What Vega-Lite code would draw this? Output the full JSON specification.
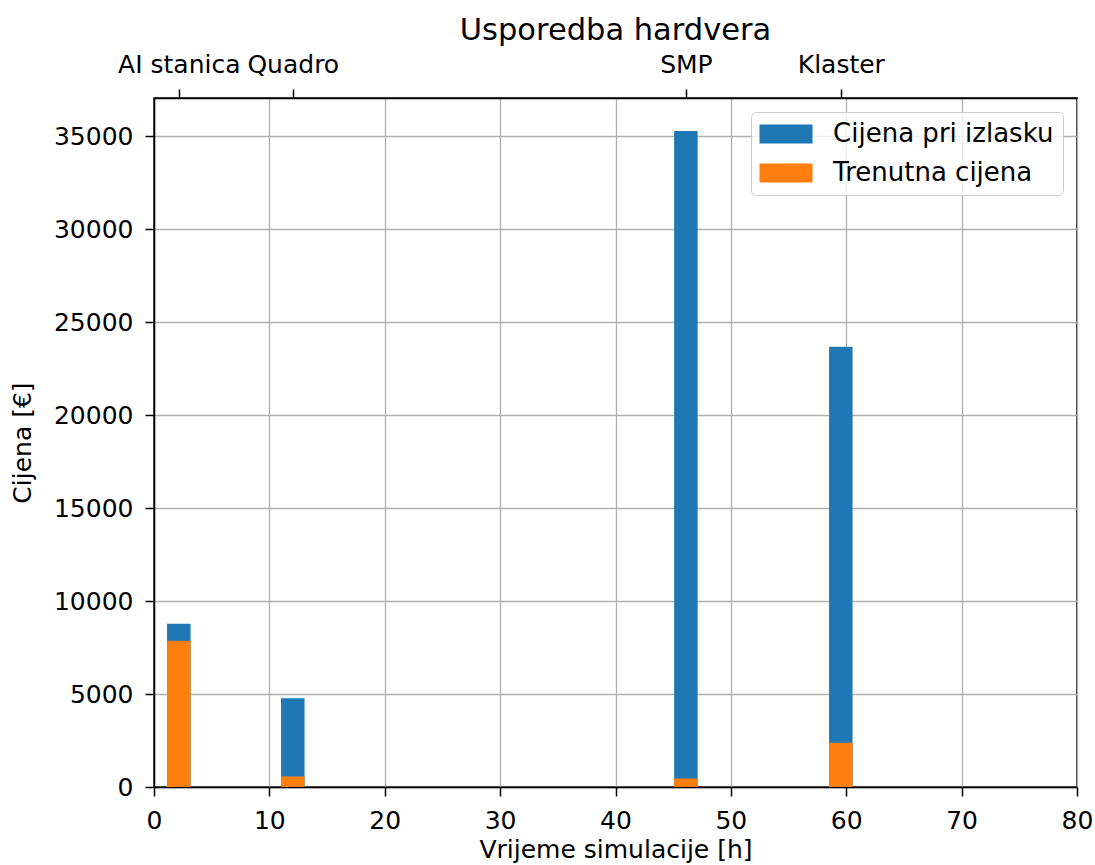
{
  "$schema": "https://vega.github.io/schema/vega-lite/v6.json",
  "width": 923,
  "height": 689,
  "autosize": {"type": "none"},
  "padding": {"left": 154, "top": 98, "right": 18, "bottom": 78},
  "title": {"text": "Usporedba hardvera", "fontSize": 30.5, "font": "DejaVu Sans", "fontWeight": "normal", "color": "#000000", "anchor": "middle", "offset": 6},
  "data": {
    "values": [
      {"hardver": "AI stanica", "vrijeme": 2.15, "serija": "Cijena pri izlasku", "cijena": 8790},
      {"hardver": "Quadro", "vrijeme": 12.03, "serija": "Cijena pri izlasku", "cijena": 4780},
      {"hardver": "SMP", "vrijeme": 46.1, "serija": "Cijena pri izlasku", "cijena": 35300},
      {"hardver": "Klaster", "vrijeme": 59.53, "serija": "Cijena pri izlasku", "cijena": 23690},
      {"hardver": "AI stanica", "vrijeme": 2.15, "serija": "Trenutna cijena", "cijena": 7870},
      {"hardver": "Quadro", "vrijeme": 12.03, "serija": "Trenutna cijena", "cijena": 570},
      {"hardver": "SMP", "vrijeme": 46.1, "serija": "Trenutna cijena", "cijena": 460},
      {"hardver": "Klaster", "vrijeme": 59.53, "serija": "Trenutna cijena", "cijena": 2380}
    ]
  },
  "layer": [
    {
      "mark": {"type": "bar", "size": 23.5, "orient": "vertical"},
      "encoding": {
        "x": {
          "field": "vrijeme", "type": "quantitative",
          "scale": {"domain": [0, 80], "nice": false, "zero": false, "padding": 0},
          "axis": {"orient": "bottom", "values": [0, 10, 20, 30, 40, 50, 60, 70, 80], "format": "d", "title": "Vrijeme simulacije [h]", "grid": true, "labelPadding": 12, "titlePadding": 4}
        },
        "y": {
          "field": "cijena", "type": "quantitative", "stack": null,
          "scale": {"domain": [0, 37070], "nice": false, "padding": 0},
          "axis": {"values": [0, 5000, 10000, 15000, 20000, 25000, 30000, 35000], "format": "d", "title": "Cijena [€]", "grid": true, "labelPadding": 12, "titlePadding": 18}
        },
        "color": {
          "field": "serija", "type": "nominal",
          "scale": {"domain": ["Cijena pri izlasku", "Trenutna cijena"], "range": ["#1f77b4", "#ff7f0e"]},
          "legend": {"title": null}
        },
        "order": {"field": "serija", "sort": "ascending"}
      }
    },
    {
      "transform": [{"filter": "datum.serija == 'Cijena pri izlasku'"}],
      "mark": {"type": "point", "opacity": 0},
      "encoding": {
        "x": {
          "field": "vrijeme", "type": "quantitative",
          "axis": {"orient": "top", "values": [2.15, 12.03, 46.1, 59.53], "grid": false, "title": null, "labelOverlap": false, "labelBound": false, "labelPadding": 12,
            "labelExpr": "datum.value < 7 ? 'AI stanica' : datum.value < 30 ? 'Quadro' : datum.value < 50 ? 'SMP' : 'Klaster'"}
        }
      }
    }
  ],
  "resolve": {"axis": {"x": "independent"}},
  "config": {
    "font": "DejaVu Sans",
    "view": {"stroke": "#000000", "strokeWidth": 1.5},
    "axis": {
      "labelFont": "DejaVu Sans", "labelFontSize": 25, "labelColor": "#000000",
      "titleFont": "DejaVu Sans", "titleFontSize": 25, "titleFontWeight": "normal", "titleColor": "#000000",
      "domainColor": "#000000", "domainWidth": 1.5,
      "tickColor": "#000000", "tickWidth": 1.5, "tickSize": 9,
      "gridColor": "#b0b0b0", "gridWidth": 1.3,
      "labelFlush": false
    },
    "legend": {
      "orient": "top-right", "offset": 14, "padding": 9,
      "fillColor": "rgba(255,255,255,0.8)", "strokeColor": "#cccccc", "cornerRadius": 5,
      "labelFont": "DejaVu Sans", "labelFontSize": 26, "labelColor": "#000000", "labelLimit": 500,
      "symbolType": "M-2.65,-0.95H2.65V0.95H-2.65Z", "symbolSize": 400, "symbolStrokeWidth": 0, "symbolOpacity": 1,
      "symbolOffset": 13, "labelOffset": 34.1, "rowPadding": 13
    }
  }
}
